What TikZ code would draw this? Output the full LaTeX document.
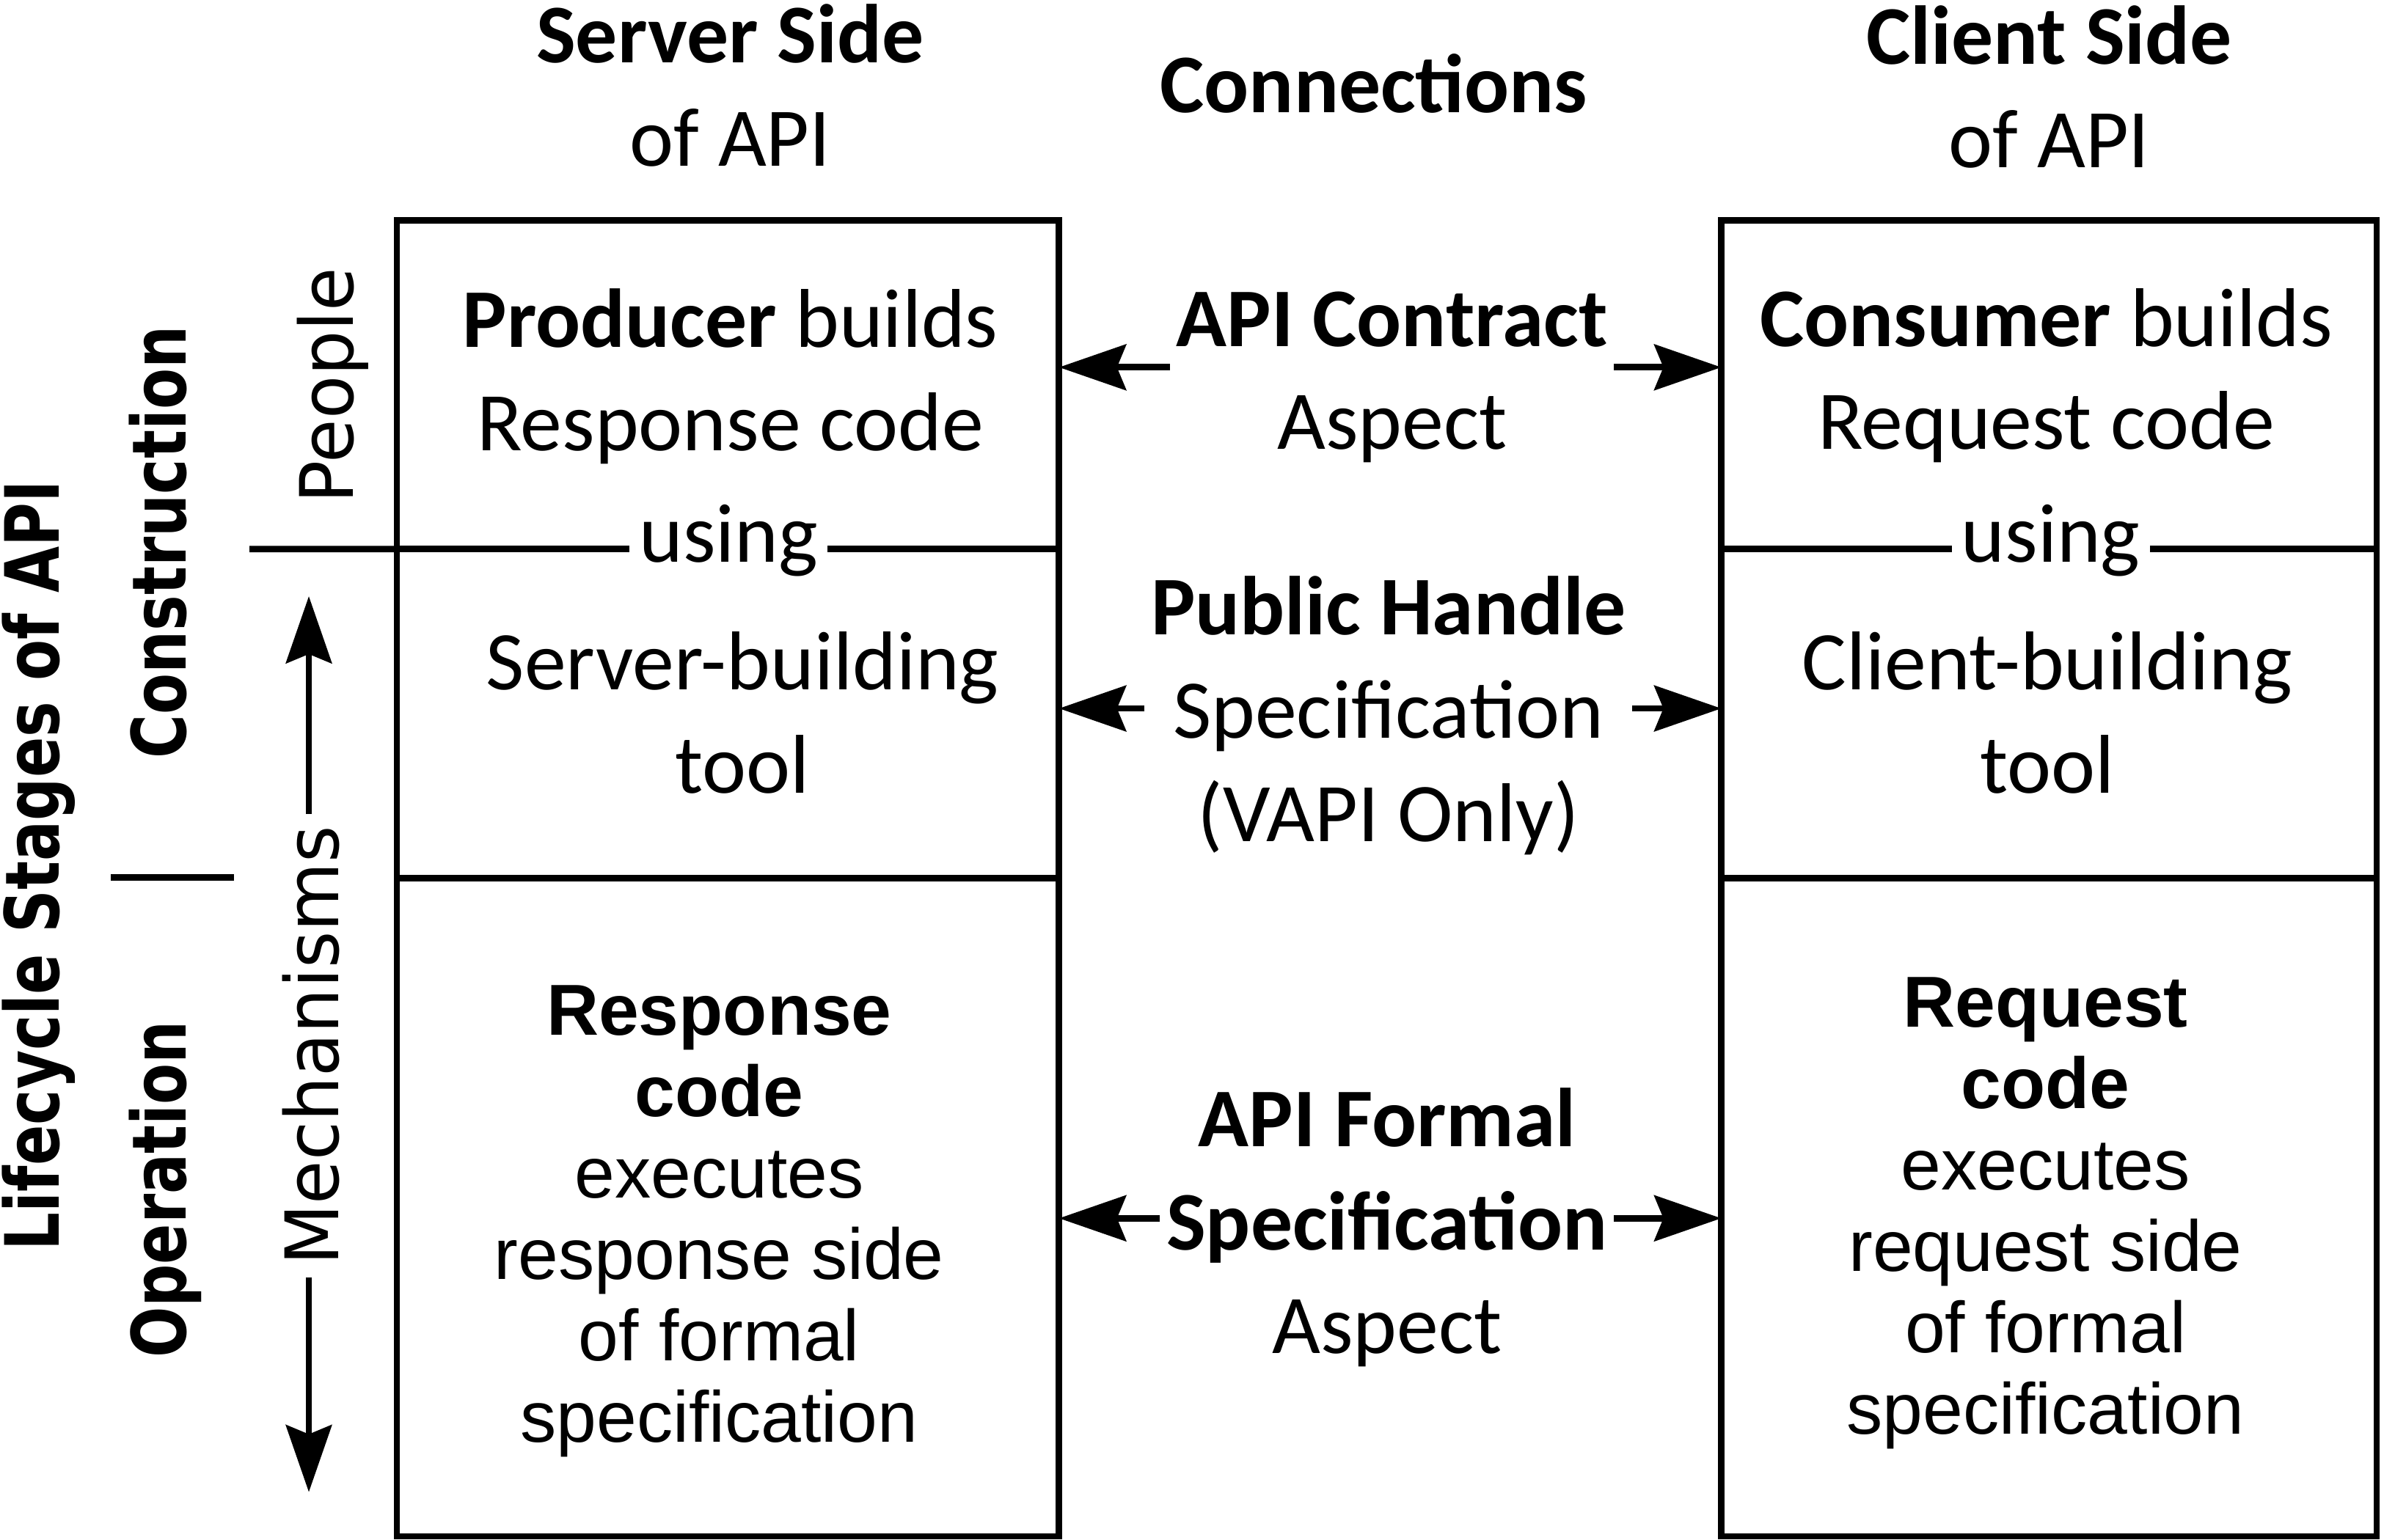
\documentclass[tikz,border=0pt]{standalone}
\usepackage{fontspec}
\setmainfont{Carlito}
\newfontfamily\arialfont{Liberation Sans}
\newfontfamily\sidefont[FakeStretch=0.96]{DejaVu Sans}
\newfontfamily\stagefont[FakeStretch=0.8]{DejaVu Sans}
\usetikzlibrary{arrows.meta}

\begin{document}
\begin{tikzpicture}[x=0.01cm,y=-0.01cm,
  cell/.style={draw,line width=1.2pt,minimum width=4.35cm,inner sep=0pt,outer sep=0pt},
  txt/.style={align=center,inner sep=1pt,font=\fontsize{15.6}{19.3}\selectfont},
  exec/.style={align=center,inner sep=0pt,font=\arialfont\fontsize{13.5}{15.2}\selectfont},
  stage/.style={rotate=90,anchor=base,inner sep=1pt,font=\stagefont\bfseries\fontsize{14}{17}\selectfont},
  side/.style={rotate=90,anchor=base,inner sep=2pt,font=\sidefont\fontsize{13.8}{17}\selectfont},
  rule/.style={line width=1.2pt},
  link/.style={line width=1.2pt,-{Stealth[length=4.4mm,width=3mm,inset=0.6mm]}}]
  \useasboundingbox (0,0) rectangle (1567,1012.5);
  % boxes of the two sides
  \node[cell,minimum height=2.16cm] (srvtop) at (478.5,253) {};
  \node[cell,minimum height=2.165cm] (srvmid) at (478.5,469.25) {};
  \node[cell,minimum height=4.325cm] (srvbot) at (478.5,793.75) {};
  \node[cell,minimum width=4.305cm,minimum height=2.16cm] (clitop) at (1346.75,253) {};
  \node[cell,minimum width=4.305cm,minimum height=2.165cm] (climid) at (1346.75,469.25) {};
  \node[cell,minimum width=4.305cm,minimum height=4.325cm] (clibot) at (1346.75,793.75) {};
  % headings
  \node[txt] (server) at (480,56) {\textbf{Server Side}\\of API};
  \node[txt] (conn) at (903,55) {\textbf{Connections}};
  \node[txt] (client) at (1347,57) {\textbf{Client Side}\\of API};
  % texts in the boxes
  \node[txt] (producer) at (480,247.5) {\textbf{Producer} builds\\Response code};
  \node[txt] (srvtool) at (488,468.7) {Server-building\\tool};
  \node[exec] (response) at (472.7,803) {\textbf{Response}\\\textbf{code}\\executes\\response side\\of formal\\specification};
  \node[txt] (consumer) at (1345,247) {\textbf{Consumer} builds\\Request code};
  \node[txt] (clitool) at (1345.7,468.5) {Client-building\\tool};
  \node[exec] (request) at (1344.5,797.7) {\textbf{Request}\\\textbf{code}\\executes\\request side\\of formal\\specification};
  \node[txt,fill=white,inner xsep=1.8pt,anchor=mid] (srvusing) at (479,361) {using};
  \node[txt,fill=white,inner xsep=1.8pt,anchor=mid] (cliusing) at (1348,361) {using};
  % connections
  \node[txt] (contract) at (915,248) {\textbf{API Contract}\\Aspect};
  \node[txt] (handle) at (912.6,470.5) {\textbf{Public Handle}\\Specification\\(VAPI Only)};
  \node[txt] (formal) at (911.7,807) {\textbf{API Formal}\\\textbf{Specification}\\Aspect};
  \coordinate (contractL) at ([yshift=0.65mm]contract.west);
  \coordinate (contractR) at ([yshift=0.65mm]contract.east);
  \coordinate (handleL) at ([yshift=0.47mm]handle.west);
  \coordinate (handleR) at ([yshift=0.47mm]handle.east);
  \coordinate (formalL) at ([yshift=0.6mm]formal.west);
  \coordinate (formalR) at ([yshift=0.6mm]formal.east);
  \foreach \c in {contract,handle,formal} {
    \draw[link] (\c L) -- (\c L -| srvtop.east);
    \draw[link] (\c R) -- (\c R -| clitop.west);
  }
  % lifecycle stages at the left
  \node[stage] (lifecycle) at (38.6,569) {Lifecycle Stages of API};
  \node[stage] (constr) at (122,356.5) {Construction};
  \node[stage] (oper) at (122,782) {Operation};
  \node[side] (people) at (232,253.5) {People};
  \node[side] (mech) at (222.6,687.5) {Mechanisms};
  \coordinate (sepend) at (164,361);
  \draw[rule] (sepend) -- (srvtop.south west);
  \draw[rule] (73,577) -- (154,577);
  \coordinate (mechtop) at (203,392);
  \coordinate (mechbot) at (203,981);
  \draw[link] (mech.east -| mechtop) -- (mechtop);
  \draw[link] (mech.west -| mechbot) -- (mechbot);
\end{tikzpicture}
\end{document}
